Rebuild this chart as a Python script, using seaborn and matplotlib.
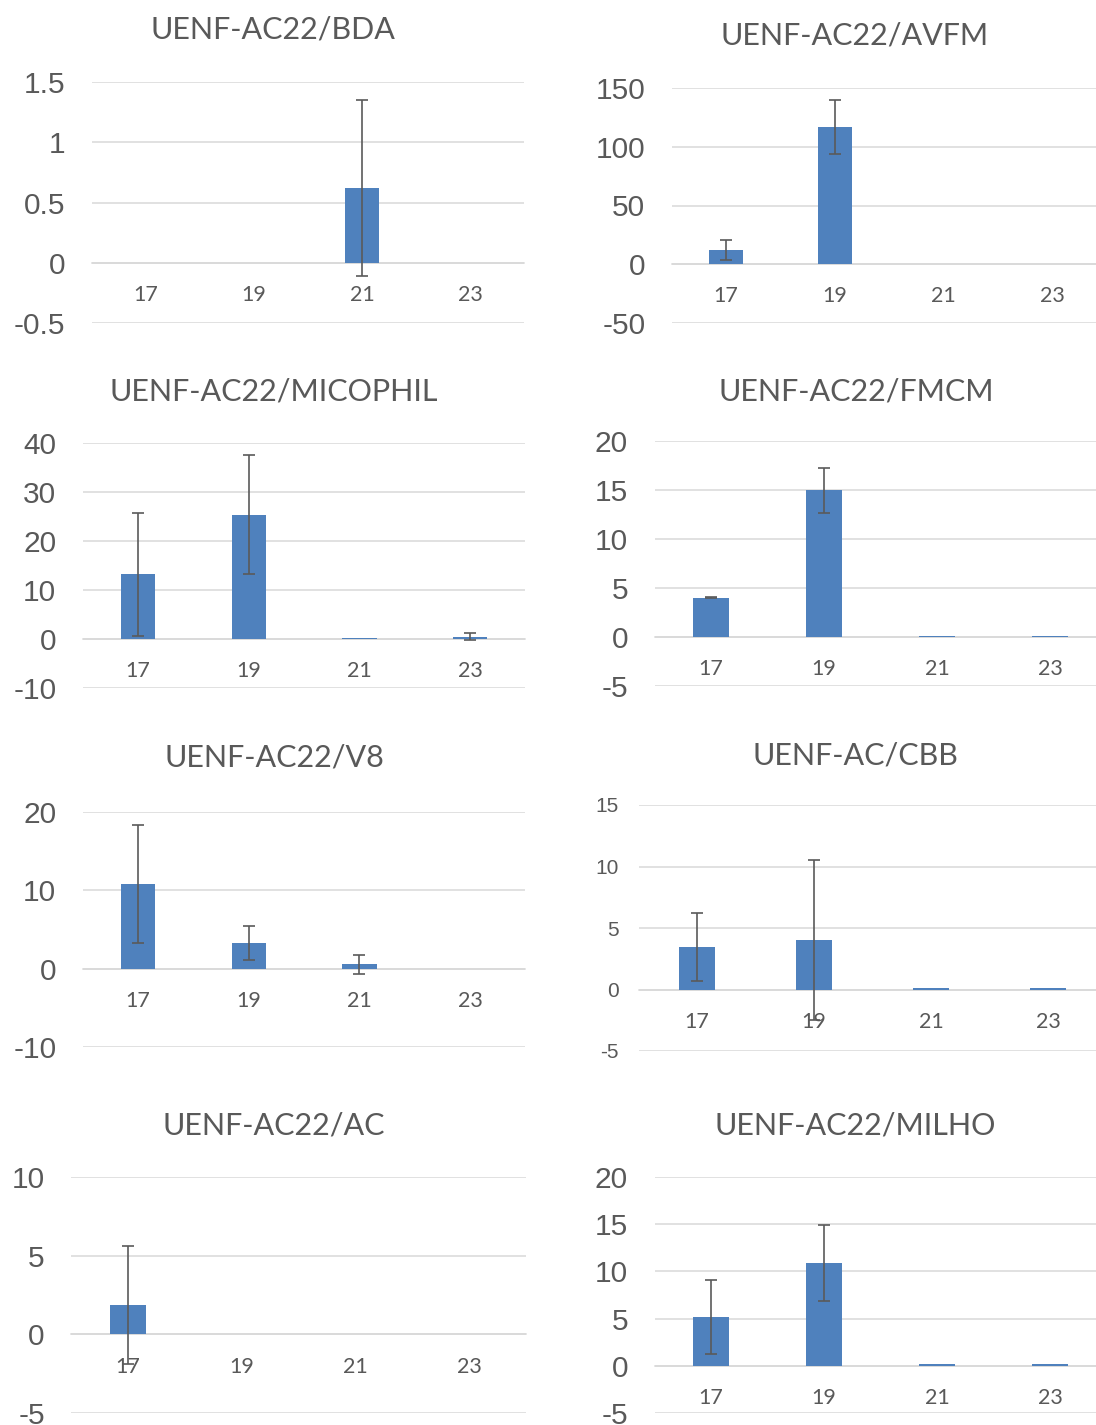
import numpy as np
import pandas as pd
import matplotlib
matplotlib.use("Agg")
import matplotlib.pyplot as plt
import seaborn as sns
from matplotlib.ticker import FuncFormatter, MultipleLocator

sns.set_theme(style="white")
plt.rcParams['font.family'] = ['Liberation Sans', 'DejaVu Sans']
plt.rcParams['axes.unicode_minus'] = False

# ---------------- data ----------------
categories = ["17", "19", "21", "23"]

titles = ["UENF-AC22/BDA", "UENF-AC22/AVFM", "UENF-AC22/MICOPHIL", "UENF-AC22/FMCM",
          "UENF-AC22/V8", "UENF-AC/CBB", "UENF-AC22/AC", "UENF-AC22/MILHO"]

bda_mean = [0, 0, 0.62, 0]
bda_err = [np.nan, np.nan, 0.73, np.nan]

avfm_mean = [12, 117, 0, 0]
avfm_err = [8.5, 23, np.nan, np.nan]

micophil_mean = [13.2, 25.4, 0.3, 0.5]
micophil_err = [12.5, 12.1, np.nan, 0.8]

fmcm_mean = [4.0, 14.95, 0.15, 0.15]
fmcm_err = [0.05, 2.25, np.nan, np.nan]

v8_mean = [10.8, 3.3, 0.55, 0]
v8_err = [7.5, 2.2, 1.2, np.nan]

cbb_mean = [3.45, 4.05, 0.15, 0.15]
cbb_err = [2.75, 6.5, np.nan, np.nan]

ac_mean = [1.85, 0, 0, 0]
ac_err = [3.75, np.nan, np.nan, np.nan]

milho_mean = [5.2, 10.9, 0.15, 0.15]
milho_err = [3.9, 4.0, np.nan, np.nan]

y_limits = [(-0.5, 1.5), (-50, 150), (-10, 40), (-5, 20),
            (-10, 20), (-5, 15), (-5, 10), (-5, 20)]
y_steps = [0.5, 50, 10, 5, 10, 5, 5, 5]

means = [bda_mean, avfm_mean, micophil_mean, fmcm_mean, v8_mean, cbb_mean, ac_mean, milho_mean]
errs = [bda_err, avfm_err, micophil_err, fmcm_err, v8_err, cbb_err, ac_err, milho_err]

# ---------------- layout (pixels) ----------------
W, H = 1096, 1425
layout = [
    dict(x17=146, sp=108.0, top=82, bot=323, title=(273, 30)),
    dict(x17=726, sp=108.7, top=88, bot=323, title=(855, 35)),
    dict(x17=138, sp=110.7, top=443, bot=688, title=(274, 392)),
    dict(x17=711, sp=113.0, top=441, bot=686, title=(856, 391)),
    dict(x17=138, sp=110.7, top=812, bot=1047, title=(274, 758)),
    dict(x17=697, sp=117.0, top=805, bot=1051, title=(855, 755)),
    dict(x17=128, sp=113.7, top=1177, bot=1413, title=(274, 1125)),
    dict(x17=711, sp=113.0, top=1177, bot=1413, title=(855, 1125)),
]

BAR = "#4F81BD"
TXT = "#595959"
GRID = "#D9D9D9"

fig = plt.figure(figsize=(W / 100, H / 100), dpi=100)
fig.patch.set_facecolor("white")

fmt = FuncFormatter(lambda v, p: f"{v:g}")

for i, L in enumerate(layout):
    left = L["x17"] - L["sp"] / 2
    right = min(L["x17"] + 3.5 * L["sp"], W)
    ax = fig.add_axes([left / W, 1 - L["bot"] / H, (right - left) / W, (L["bot"] - L["top"]) / H])
    df = pd.DataFrame({"cat": categories, "val": means[i]})
    sns.barplot(data=df, x="cat", y="val", color=BAR, saturation=1, width=0.31,
                errorbar=None, ax=ax, edgecolor="none", linewidth=0)
    ax.errorbar(np.arange(len(categories)), means[i], yerr=errs[i], fmt="none",
                ecolor="#5A5A5A", elinewidth=1.2, capsize=4.5, capthick=1.2, zorder=5)
    ax.set_xlim(-0.5, (right - L["x17"]) / L["sp"])
    ax.set_ylim(*y_limits[i])
    ax.yaxis.set_major_locator(MultipleLocator(y_steps[i]))
    ax.yaxis.set_major_formatter(fmt)
    ax.grid(axis="y", color=GRID, linewidth=1.1)
    ax.set_axisbelow(True)
    for s in ["top", "right", "left"]:
        ax.spines[s].set_visible(False)
    ax.spines["bottom"].set_position(("data", 0))
    ax.spines["bottom"].set_color(GRID)
    ax.spines["bottom"].set_linewidth(1.1)
    ax.spines["bottom"].set_zorder(0)
    ax.set_xlabel("")
    ax.set_ylabel("")
    ysize = 15 if i == 5 else 21.5
    ypad = 14 if i == 5 else 19
    ax.tick_params(axis="y", length=0, pad=ypad, labelsize=ysize, labelcolor=TXT)
    ax.tick_params(axis="x", length=0, pad=16, labelsize=15.5, labelcolor=TXT)
    for lab in ax.get_xticklabels():
        lab.set_fontfamily(["Lato", "DejaVu Sans"])
    ax.patch.set_alpha(0)
    tx, ty = L["title"]
    fig.text(tx / W, 1 - ty / H, titles[i], ha="center", va="center",
             fontsize=22, color=TXT, family=["Lato", "DejaVu Sans"])

fig.savefig("out.png", dpi=100, facecolor="white")
